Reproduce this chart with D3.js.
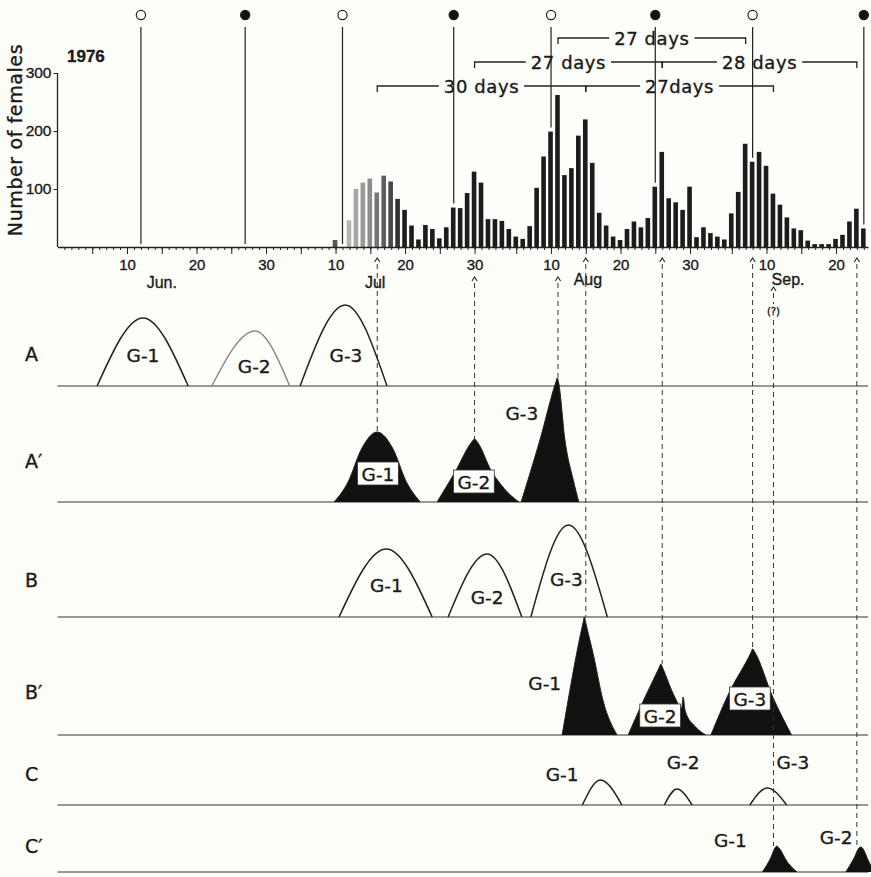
<!DOCTYPE html>
<html>
<head>
<meta charset="utf-8">
<script src="https://cdn.jsdelivr.net/npm/d3@7/dist/d3.min.js"></script>
<style>
  html, body { margin: 0; background: #fdfdf9; }
  svg { display: block; font-family: "DejaVu Sans", sans-serif; }
  text { fill: #1a1a1a; stroke: #1a1a1a; stroke-width: 0.35; }
</style>
</head>
<body>
<svg id="chart" width="871" height="877"></svg>
<script>
// day index = days from 31 May 1976 (1 = 1 Jun, 31 = 1 Jul, 62 = 1 Aug, 93 = 1 Sep)

// daily number of females
const barDays = d3.range(40, 117);
const barValues = [12, 0, 46, 100, 111, 118, 94, 123, 113, 83,
  64, 37, 13, 38, 31, 15, 34, 68, 67, 93,
  130, 111, 48, 48, 45, 31, 18, 14, 36, 102,
  156, 199, 262, 124, 136, 192, 220, 145, 59, 37,
  18, 12, 31, 44, 34, 50, 104, 164, 84, 77,
  64, 104, 17, 34, 24, 18, 13, 58, 95, 178,
  147, 164, 140, 92, 73, 51, 32, 29, 11, 5,
  5, 5, 14, 21, 44, 66, 32];

// moon phases
const moonDays = [12, 27, 41, 57, 71, 86, 100, 116];
const moonPhase = ["full", "new", "full", "new", "full", "new", "full", "new"];

// intervals between peaks
const spanStart = [46, 76, 60, 87, 72];
const spanEnd = [76, 103, 87, 115, 99];
const spanText = ["30 days", "27days", "27 days", "28 days", "27 days"];
const spanRow = [0, 0, 1, 1, 2];

// x axis
const tickDays = [10, 20, 30, 40, 50, 60, 71, 81, 91, 102, 112];
const tickText = ["10", "20", "30", "10", "20", "30", "10", "20", "30", "10", "20"];
const fiveDays = [5, 10, 15, 20, 25, 30, 35, 40, 45, 50, 55, 60, 66, 71, 76, 81, 86, 91, 97, 102, 107, 112];
const monthText = ["Jun.", "Jul", "Aug", "Sep."];
const monthDays = [15, 45.7, 76.3, 105.1];
const yTicks = [100, 200, 300];

// emergence curves, points are [day, height]
const panelNames = ["A", "A′", "B", "B′", "C", "C′"];
const panelFilled = [false, true, false, true, false, true];
const humpNames = ["G-1", "G-2", "G-3"];
const humpsA = [
  [[5.7, 0], [12.3, 68], [18.8, 0]],
  [[22.2, 0], [28.4, 55], [33.4, 0]],
  [[34.9, 0], [41.4, 81], [47.4, 0]]
];
const humpsA2 = [
  [[39.8, 0], [41.8, 20], [43.8, 54], [46, 70], [48.2, 54], [50.2, 20], [52.2, 0]],
  [[54.6, 0], [57.2, 30], [59.6, 60], [60, 63], [60.4, 60], [62.5, 30], [63.5, 20], [65, 8], [66.4, 0]],
  [[66.7, 0], [69.4, 62], [71.7, 120], [71.9, 124], [72.1, 119], [73, 62], [74.2, 22], [75, 0]]
];
const humpsB = [
  [[40.5, 0], [47.3, 68], [53.9, 0]],
  [[56.2, 0], [61.8, 63], [66.8, 0]],
  [[68.1, 0], [73.5, 92], [79.1, 0]]
];
const humpsB2 = [
  [[72.6, 0], [75.6, 112], [75.8, 118], [76, 112], [77.1, 80], [78.5, 34], [80.5, 0]],
  [[82.1, 0], [84.4, 36], [86.6, 68], [86.8, 71], [87, 68], [88.8, 38], [89.8, 27], [90, 38], [90.3, 24], [91.8, 8], [93.3, 0]],
  [[94, 0], [96.6, 42], [99.8, 83], [100, 86], [100.3, 83], [102.9, 38], [105.6, 0]]
];
const humpsC = [
  [[75.5, 0], [78.1, 25], [81.2, 0]],
  [[87.3, 0], [89.1, 16], [91.3, 0]],
  [[99.6, 0], [102.1, 17], [104.9, 0]]
];
const humpsC2 = [
  [[101.4, 0], [102.6, 14], [103.3, 25], [103.5, 26], [103.8, 24], [105, 10], [106.4, 0]],
  [[113.4, 0], [114.6, 14], [115.3, 24], [115.6, 25], [115.9, 23], [116.6, 12], [117.5, 0]]
];
const panelHumps = [humpsA, humpsA2, humpsB, humpsB2, humpsC, humpsC2];

// dashed links: day on the axis -> [panel, curve]
const arrowDays = [46, 60, 72, 76, 87, 100, 103, 115];
const arrowTarget = [[1, 0], [1, 1], [1, 2], [3, 0], [3, 1], [3, 2], [5, 0], [5, 1]];

// ---- layout ----
const W = 871, H = 877;
const panelBase = [386, 502, 617, 735, 805, 872];
const panelLabelY = [354, 461, 580, 692, 774, 846];
// label [day, px above baseline, boxed]
const humpLabelPos = [
  [[12.3, 31, 0], [28.3, 20, 0], [41.5, 31, 0]],
  [[46.1, 28, 1], [59.9, 20, 1], [66.8, 89, 0]],
  [[47.3, 32, 0], [61.8, 20, 0], [73.2, 38, 0]],
  [[70.1, 52, 0], [86.7, 19, 1], [99.6, 36, 1]],
  [[72.6, 31, 0], [90, 43, 0], [105.8, 43, 0]],
  [[96.8, 32, 0], [112, 35, 0]]
];
const spanRowY = [86, 62, 38];
const arrowRow = [0, 1, 1, 0, 0, 0, 2, 0];
const arrowTipY = [258, 277, 287];

const svg = d3.select("#chart");
svg.append("rect").attr("width", W).attr("height", H).attr("fill", "#fdfdf9");

const x = d3.scaleLinear().domain([0, 116.6]).range([57.5, 868]);
const y = d3.scaleLinear().domain([0, 300]).range([247, 73]);

// faded print on the first bars
const barColor = d3.scaleLinear()
  .domain([40, 42, 45, 50])
  .range(["#555", "#b4b4b4", "#8c8c8c", "#1c1c1c"])
  .clamp(true);

const barW = 4.6;
svg.append("g").selectAll("rect")
  .data(barDays.map((d, i) => ({ day: d, v: barValues[i] })).filter(d => d.v > 0))
  .join("rect")
  .attr("x", d => x(d.day) - barW / 2 - 0.5)
  .attr("y", d => y(d.v))
  .attr("width", barW)
  .attr("height", d => y(0) - y(d.v))
  .attr("fill", d => barColor(d.day));

// x axis: daily ticks, 5-day ticks, labels
const axisG = svg.append("g").attr("transform", `translate(0,${y(0)})`);
axisG.append("g")
  .call(d3.axisBottom(x).tickValues(d3.range(1, 117)).tickSize(3).tickSizeOuter(0).tickFormat(""));
axisG.append("g")
  .call(d3.axisBottom(x).tickValues(fiveDays).tickSize(7).tickSizeOuter(0).tickFormat(""))
  .select(".domain").remove();
axisG.append("g")
  .call(d3.axisBottom(x).tickValues(tickDays).tickSize(0).tickPadding(12)
    .tickFormat((d, i) => tickText[i]))
  .call(g => g.select(".domain").remove())
  .selectAll("text")
  .attr("font-family", "Liberation Sans, Arial, sans-serif")
  .attr("font-size", 15)
  .attr("fill", (d, i) => i === 2 ? "#9a9a9a" : "#1a1a1a")
  .attr("stroke", (d, i) => i === 2 ? "#9a9a9a" : "#1a1a1a");
axisG.selectAll("path.domain").attr("stroke", "#222").attr("stroke-width", 1.3);
axisG.selectAll(".tick line").attr("stroke", "#222");

svg.append("g").selectAll("text")
  .data(monthText)
  .join("text")
  .attr("x", (d, i) => x(monthDays[i]))
  .attr("y", (d, i) => i < 2 ? 288 : 285)
  .attr("text-anchor", "middle")
  .attr("font-family", "Liberation Sans, Arial, sans-serif")
  .attr("font-size", 16)
  .text(d => d);

// y axis
const yAxisG = svg.append("g").attr("transform", `translate(${x(0)},0)`)
  .call(d3.axisLeft(y).tickValues(yTicks).tickSize(4).tickSizeOuter(0).tickPadding(2));
yAxisG.select(".domain").attr("stroke", "#222").attr("stroke-width", 1.3)
  .attr("d", `M0,${y(0)}V${y(300)}`);
yAxisG.selectAll(".tick line").attr("stroke", "#222");
yAxisG.selectAll("text")
  .attr("font-family", "Liberation Sans, Arial, sans-serif")
  .attr("font-size", 15.5)
  .attr("fill", "#1a1a1a");

svg.append("text")
  .attr("transform", "translate(22,140) rotate(-90)")
  .attr("text-anchor", "middle")
  .attr("font-size", 19)
  .attr("letter-spacing", 0.6)
  .text("Number of females");

svg.append("text")
  .attr("x", 67).attr("y", 62)
  .attr("font-family", "Liberation Sans, Arial, sans-serif")
  .attr("font-size", 17).attr("font-weight", "bold")
  .text("1976");

// moon phases and their lines
const valueOf = d => { const i = barDays.indexOf(d); return i < 0 ? 0 : barValues[i]; };
moonDays.forEach((d, i) => {
  const v = valueOf(d);
  svg.append("line")
    .attr("x1", x(d)).attr("x2", x(d))
    .attr("y1", 27).attr("y2", v > 0 ? y(v) - 4 : y(0) - 3)
    .attr("stroke", "#222").attr("stroke-width", 1.2);
  svg.append("circle")
    .attr("cx", x(d)).attr("cy", 15).attr("r", 4.6)
    .attr("fill", moonPhase[i] === "new" ? "#111" : "#fdfdf9")
    .attr("stroke", "#222").attr("stroke-width", 1.2);
});

// interval brackets
spanText.forEach((t, i) => {
  const yy = spanRowY[spanRow[i]];
  const x0 = x(spanStart[i]), x1 = x(spanEnd[i]);
  const cx = (x0 + x1) / 2;
  const txt = svg.append("text")
    .attr("x", cx).attr("y", yy + 6.5)
    .attr("text-anchor", "middle")
    .attr("font-size", 18)
    .attr("letter-spacing", 0.6)
    .text(t);
  const w = txt.node().getComputedTextLength();
  svg.append("path")
    .attr("d", `M${x0},${yy + 6}V${yy}H${cx - w / 2 - 5}M${cx + w / 2 + 5},${yy}H${x1}V${yy + 6}`)
    .attr("fill", "none").attr("stroke", "#222").attr("stroke-width", 1.3);
});

// panels
const line = d3.line().curve(d3.curveMonotoneX);
panelNames.forEach((name, p) => {
  const base = panelBase[p];
  const g = svg.append("g");
  g.append("line")
    .attr("x1", x(0)).attr("x2", 868)
    .attr("y1", base).attr("y2", base)
    .attr("stroke", "#333").attr("stroke-width", 1.2);
  g.append("text")
    .attr("x", 25).attr("y", panelLabelY[p] + 7)
    .attr("font-size", 19)
    .text(name);

  panelHumps[p].forEach((pts, h) => {
    const faded = p === 0 && h === 1;
    g.append("path")
      .attr("d", line.x(q => x(q[0])).y(q => base - q[1])(pts))
      .attr("fill", panelFilled[p] ? "#111" : "none")
      .attr("stroke", faded ? "#8a8a8a" : "#222")
      .attr("stroke-width", panelFilled[p] ? 1 : 1.5);

    const [ld, lh, boxed] = humpLabelPos[p][h];
    const lx = x(ld), ly = base - lh;
    const lab = g.append("text")
      .attr("x", lx).attr("y", ly + 7)
      .attr("text-anchor", "middle")
      .attr("font-size", 18.5)
      .attr("fill", faded ? "#8a8a8a" : "#1a1a1a")
      .attr("stroke", faded ? "#8a8a8a" : "#1a1a1a")
      .text(humpNames[h]);
    if (boxed) {
      const w = lab.node().getComputedTextLength();
      g.insert("rect", () => lab.node())
        .attr("x", lx - w / 2 - 4).attr("y", ly - 12)
        .attr("width", w + 8).attr("height", 23)
        .attr("fill", "#fdfdf9").attr("stroke", "#333").attr("stroke-width", 0.8);
    }
  });
});

// dashed links from the axis to the curve peaks
arrowDays.forEach((d, i) => {
  const [p, h] = arrowTarget[i];
  const peak = d3.greatest(panelHumps[p][h], q => q[1]);
  const ax = x(d), tip = arrowTipY[arrowRow[i]];
  svg.append("path")
    .attr("d", `M${ax - 2.6},${tip + 4}L${ax},${tip}L${ax + 2.6},${tip + 4}`)
    .attr("fill", "none").attr("stroke", "#222").attr("stroke-width", 1.1);
  svg.append("line")
    .attr("x1", ax).attr("x2", ax)
    .attr("y1", tip + 6).attr("y2", panelBase[p] - peak[1])
    .attr("stroke", "#333").attr("stroke-width", 1)
    .attr("stroke-dasharray", "5,4");
});

// question mark note on the 11 Sep link
svg.append("rect")
  .attr("x", x(103) - 9).attr("y", 304).attr("width", 18).attr("height", 14)
  .attr("fill", "#fdfdf9");
svg.append("text")
  .attr("x", x(103)).attr("y", 315)
  .attr("text-anchor", "middle")
  .attr("font-size", 10)
  .attr("stroke-width", 0.2)
  .text("(?)");
</script>
</body>
</html>
